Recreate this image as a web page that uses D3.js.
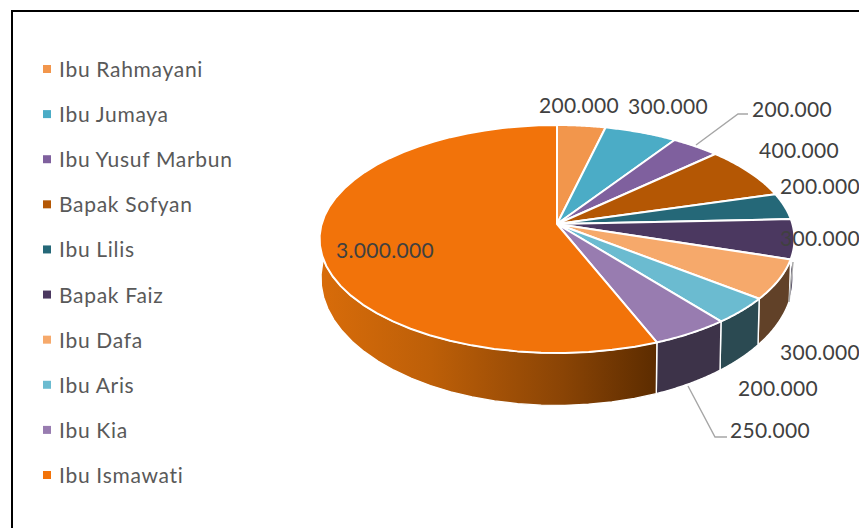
<!DOCTYPE html>
<html>
<head>
<meta charset="utf-8">
<script src="https://cdn.jsdelivr.net/npm/d3@7"></script>
<style>
html,body{margin:0;padding:0;background:#fff;overflow:hidden}
svg{display:block}
text{font-family:Lato,"Open Sans",sans-serif;fill:#595959}
</style>
</head>
<body>
<svg id="chart" width="859" height="528"></svg>
<script>
// Iuran per orang
const names = ["Ibu Rahmayani","Ibu Jumaya","Ibu Yusuf Marbun","Bapak Sofyan","Ibu Lilis","Bapak Faiz","Ibu Dafa","Ibu Aris","Ibu Kia","Ibu Ismawati"];
const amounts = [200000,300000,200000,400000,200000,300000,300000,200000,250000,3000000];
const topColors = ["#f2964c","#4bacc6","#7f609e","#b45704","#256878","#4b3860","#f6a96b","#6bbbd0","#987cb0","#f2730a"];
const sideColors = ["#8a5a2c","#2c6375","#4b3860","#6b3403","#16404a","#33284a","#614128","#2b4a52","#3d3349","#f2730a"];
const labelSpots = [[579,105],[668,106],[792,109],[799,150],[820,186],[820,238],[820,352],[778,388],[770,430],[385,250]];
const leaders = [[[696,145],[738,114],[748,114]],[[688,386],[715,437],[727,437]],[[793,262],[789,302]]];

const svg = d3.select("#chart");
const idLocale = d3.formatLocale({decimal:",",thousands:".",grouping:[3],currency:["Rp",""]});
const fmt = idLocale.format(",d");

// Frame
svg.append("path").attr("d","M12 528V11H859").attr("fill","none").attr("stroke","#000").attr("stroke-width",2);

// Legend
const legendY = d3.scalePoint().domain(names).range([69,475]);
const legend = svg.append("g").selectAll("g").data(names).join("g")
  .attr("transform",d=>`translate(0,${legendY(d)})`);
legend.append("rect").attr("x",43).attr("y",-4).attr("width",8).attr("height",8)
  .attr("fill",(d,i)=>topColors[i]);
legend.append("text").attr("x",59).attr("y",8).attr("font-size",21).attr("letter-spacing",0.7).text(d=>d);

// Tilted pie: a projective mapping of a circle, so the centre sits above the middle of the ellipse
const tilt = 0.1316;
const project = (a,rx,ry,cy) => {
  const u = Math.sin(a), v = -Math.cos(a), w = 1 - tilt*v;
  return [557 + rx*u/w, cy + ry*v/w];
};
const topRim = a => project(a,235.4,112,224);
const baseRim = a => project(a,234,125,261.5);

const arcs = d3.pie().sort(null).value(d=>d)(amounts);
const line = d3.line();
const sample = (a0,a1) => d3.range(0,41).map(k=>a0+(a1-a0)*k/40);

const defs = svg.append("defs");
const grad = defs.append("linearGradient").attr("id","wallShade")
  .attr("gradientUnits","userSpaceOnUse").attr("x1",320).attr("x2",657).attr("y1",0).attr("y2",0);
[[0,"#d86c0a"],[0.33,"#bd5f08"],[0.72,"#8a4405"],[1,"#5c2c00"]].forEach(([o,c])=>
  grad.append("stop").attr("offset",o).attr("stop-color",c));

// Outer wall, then the top face over it
const walls = svg.append("g");
arcs.forEach((s,i)=>{
  const as = sample(s.startAngle,s.endAngle);
  const pts = as.map(topRim).concat(as.slice().reverse().map(baseRim));
  walls.append("path").attr("d",line(pts)+"Z")
    .attr("fill",i===9?"url(#wallShade)":sideColors[i])
    .attr("stroke","#fff").attr("stroke-width",1.4).attr("stroke-linejoin","round");
});
const faces = svg.append("g");
arcs.forEach((s,i)=>{
  const pts = [[557,224]].concat(sample(s.startAngle,s.endAngle).map(topRim));
  faces.append("path").attr("d",line(pts)+"Z")
    .attr("fill",topColors[i]).attr("stroke","#fff").attr("stroke-width",2).attr("stroke-linejoin","round");
});

// Leader lines
svg.append("g").selectAll("path").data(leaders).join("path")
  .attr("d",d=>line(d)).attr("fill","none").attr("stroke","#a6a6a6").attr("stroke-width",1.4);

// Value labels
svg.append("g").selectAll("text").data(amounts).join("text")
  .attr("x",(d,i)=>labelSpots[i][0]).attr("y",(d,i)=>labelSpots[i][1]+8)
  .attr("text-anchor","middle").attr("font-size",21).attr("letter-spacing",0.3)
  .style("fill","#404040").text(d=>fmt(d));
</script>
</body>
</html>
